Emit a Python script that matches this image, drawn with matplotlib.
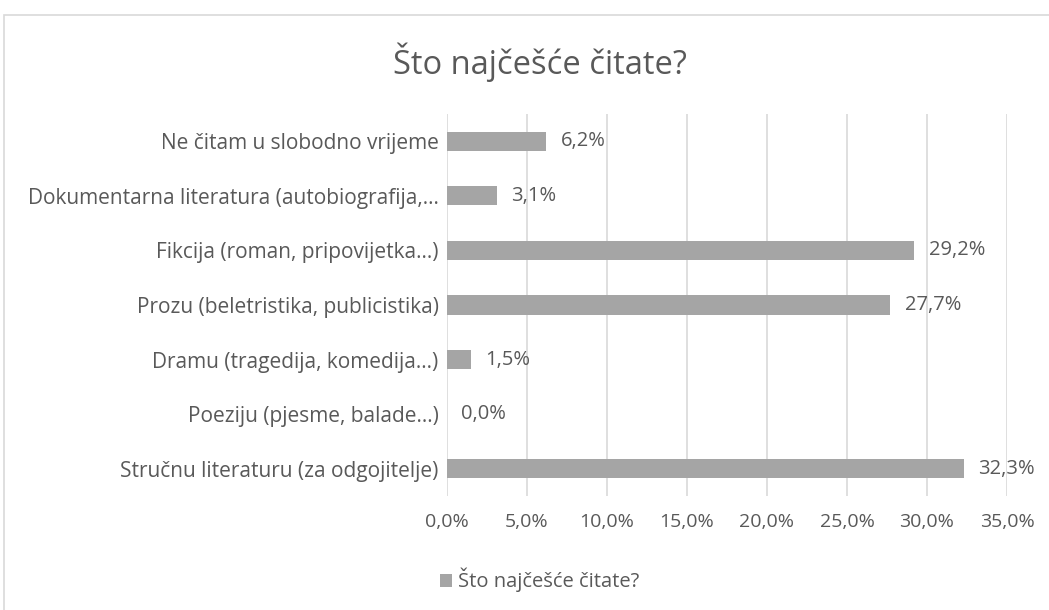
import matplotlib
matplotlib.use("Agg")
import matplotlib.pyplot as plt
from matplotlib.patches import Rectangle

plt.rcParams['font.family'] = ['Open Sans', 'DejaVu Sans']

naslov = "Što najčešće čitate?"
kategorije = [
    "Stručnu literaturu (za odgojitelje)",
    "Poeziju (pjesme, balade…)",
    "Dramu (tragedija, komedija…)",
    "Prozu (beletristika, publicistika)",
    "Fikcija (roman, pripovijetka…)",
    "Dokumentarna literatura (autobiografija,…",
    "Ne čitam u slobodno vrijeme",
]
postoci = [32.3, 0.0, 1.5, 27.7, 29.2, 3.1, 6.2]
x_ticks = [0, 5, 10, 15, 20, 25, 30, 35]

tekst = "#595959"
siva = "#A5A5A5"

fig = plt.figure(figsize=(10.49, 6.10), dpi=100)
fig.patches.append(Rectangle((4/1049, -0.1), 1.2, 1.1 - 15/610,
                             transform=fig.transFigure, fill=False,
                             edgecolor="#D9D9D9", linewidth=1.2))
ax = fig.add_axes([447/1049, 1 - 496/610, 560/1049, 382/610])

y = range(len(kategorije))
ax.barh(y, postoci, height=0.35, color=siva, zorder=3, label=naslov)
for i, v in enumerate(postoci):
    ax.text(v + 0.9, i, f"{v:.1f}%".replace(".", ","), va="center", ha="left",
            fontsize=14.5, color=tekst)

ax.set_xlim(0, 35)
ax.set_ylim(-0.5, len(kategorije) - 0.5)
ax.set_xticks(x_ticks)
ax.set_xticklabels([f"{t:.1f}%".replace(".", ",") for t in x_ticks], fontsize=14, color=tekst)
ax.set_yticks(list(y))
ax.set_yticklabels(kategorije, fontsize=15, color=tekst)
ax.tick_params(length=0, pad=6)
ax.tick_params(axis="x", pad=12)
ax.grid(axis="x", color="#D9D9D9", linewidth=1.2, zorder=0)
for s in ax.spines.values():
    s.set_visible(False)

fig.text(540/1049, 1 - 62/610, naslov, ha="center", va="center", fontsize=23.5, color=tekst)
fig.legend(loc="center", bbox_to_anchor=(540/1049, 1 - 580/610), frameon=False,
           fontsize=14.5, labelcolor=tekst, handlelength=0.6, handleheight=0.6,
           handletextpad=0.3)

fig.savefig("out.png", dpi=100)
